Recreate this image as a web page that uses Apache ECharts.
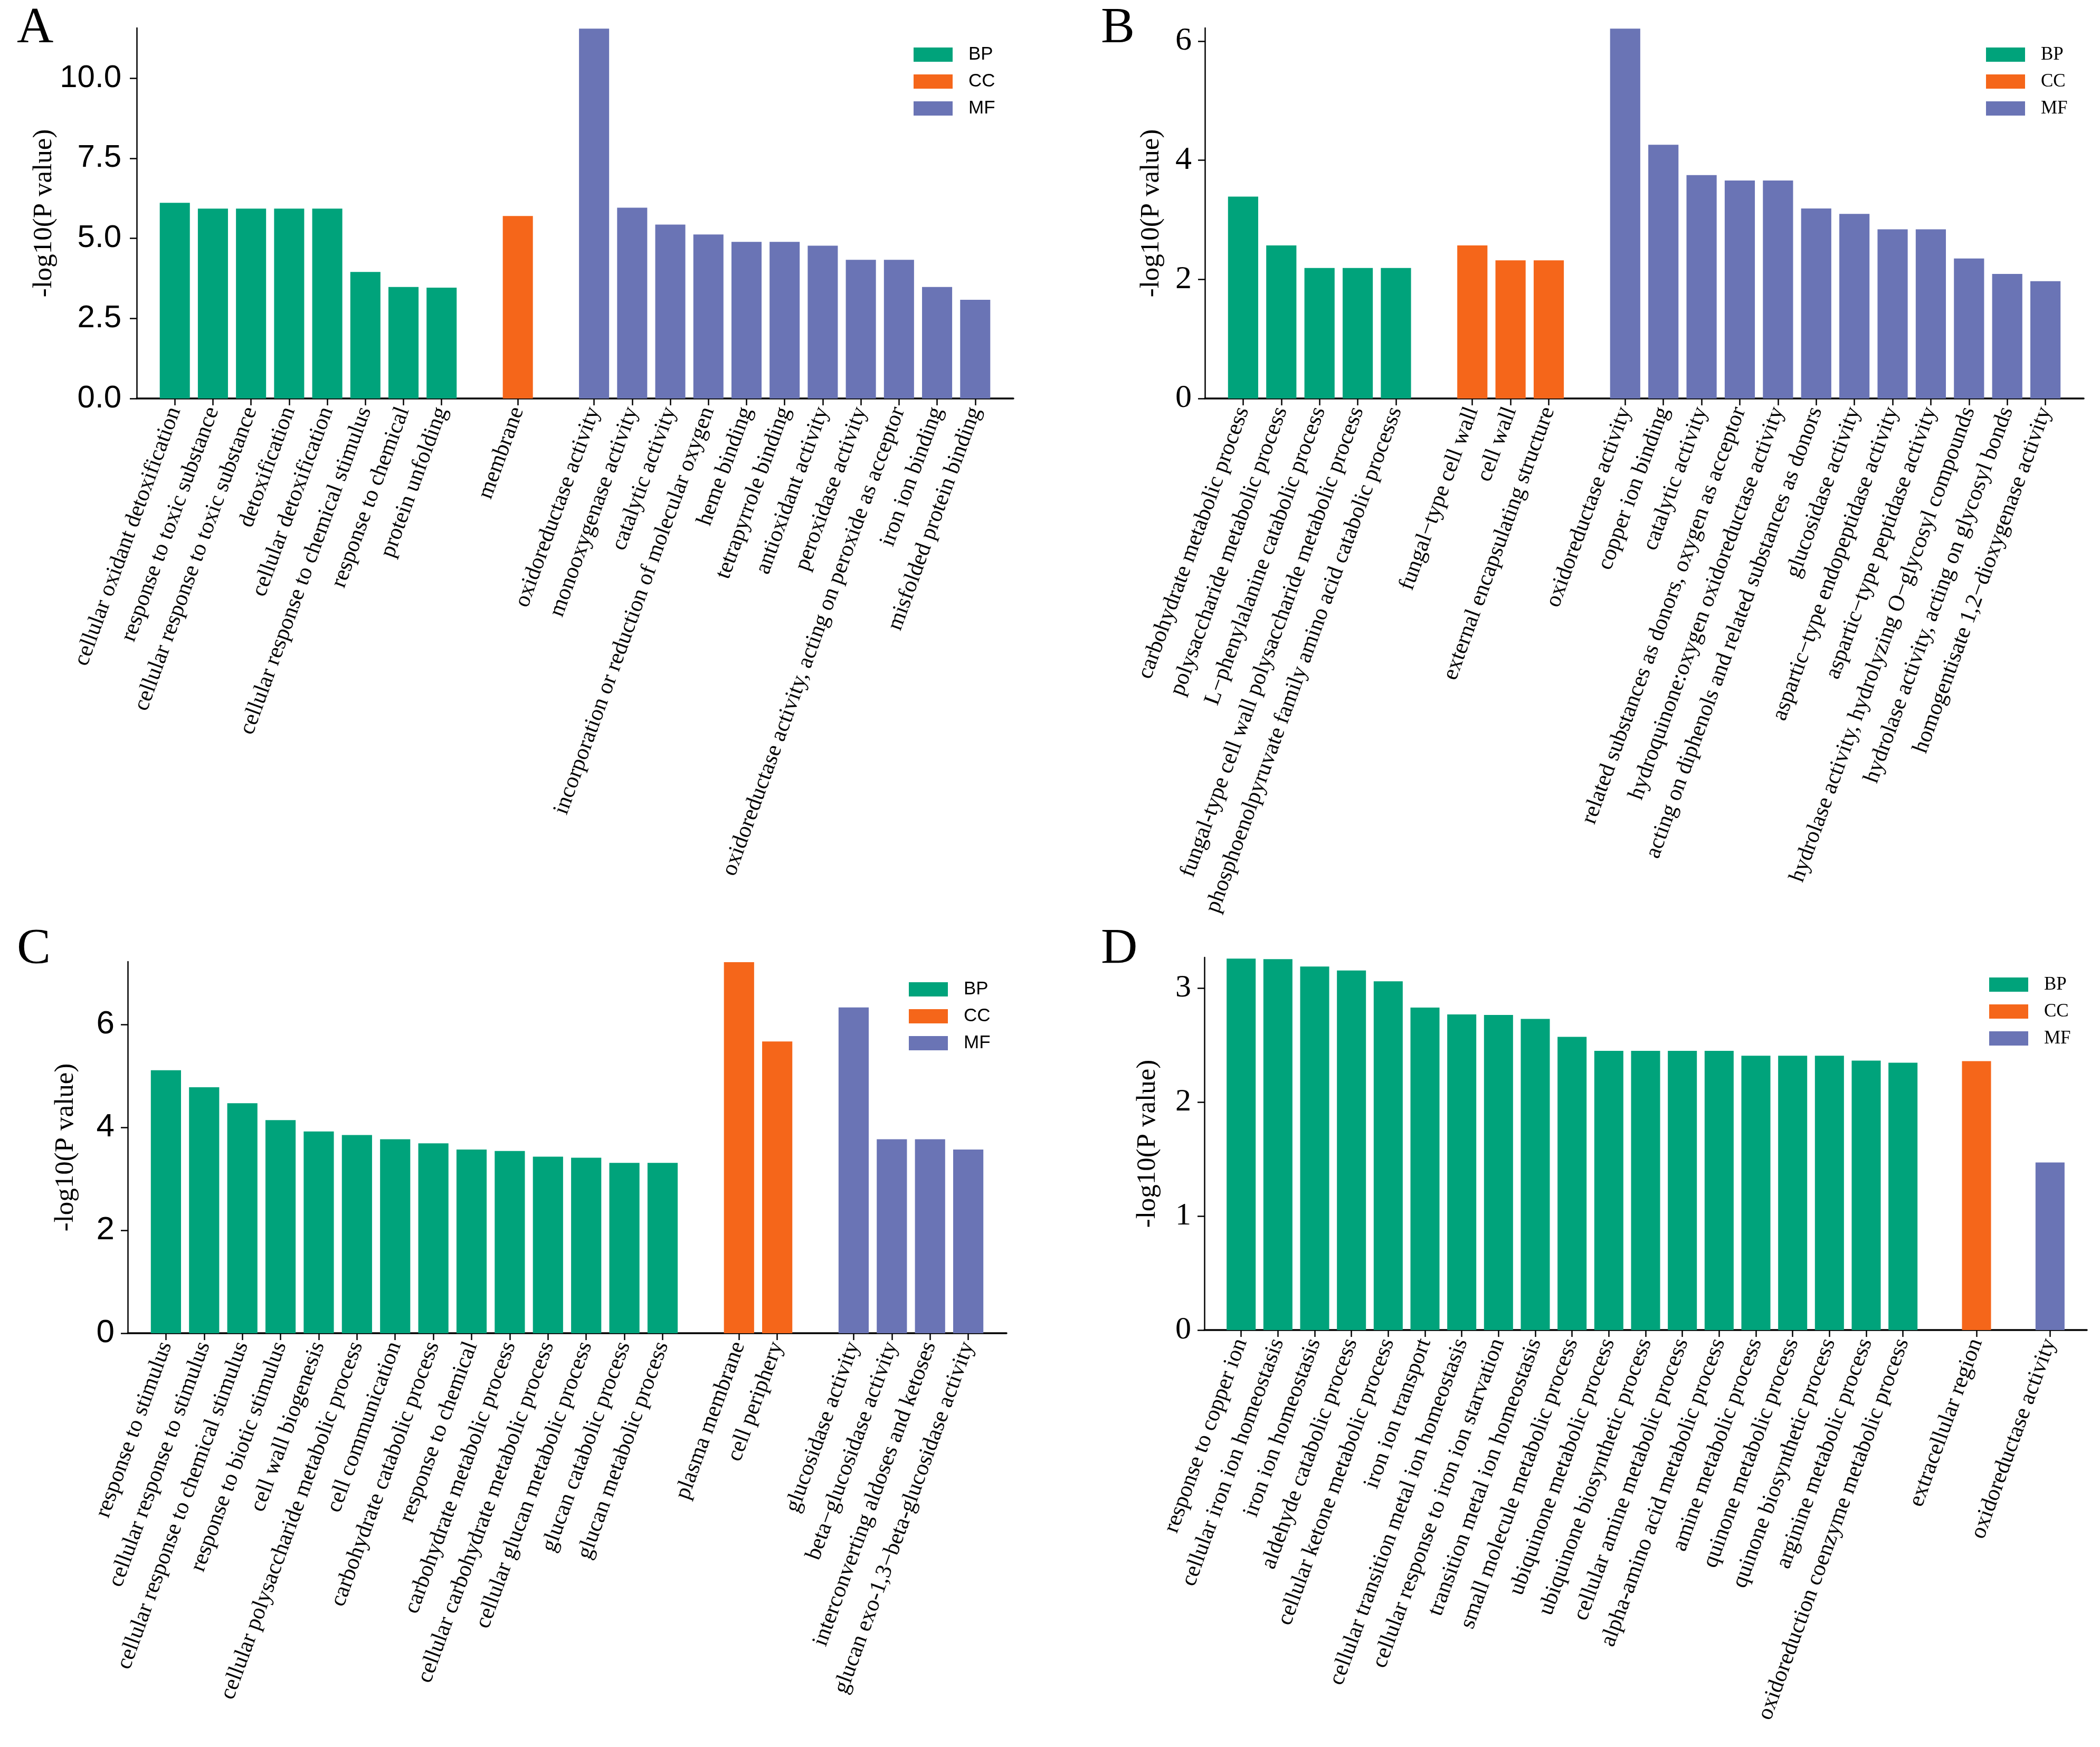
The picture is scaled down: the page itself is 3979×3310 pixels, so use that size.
<!DOCTYPE html>
<html>
<head>
<meta charset="utf-8">
<script src="https://cdn.jsdelivr.net/npm/echarts@6/dist/echarts.min.js"></script>
<style>html,body{margin:0;padding:0;background:#fff}#c{width:3979px;height:3310px}</style>
</head>
<body>
<div id="c"></div>
<script>
// ---------- Panel A ----------
const aBPNames = ['cellular oxidant detoxification','response to toxic substance','cellular response to toxic substance','detoxification','cellular detoxification','cellular response to chemical stimulus','response to chemical','protein unfolding'];
const aBPVals = [6.11,5.93,5.93,5.93,5.93,3.95,3.48,3.46];
const aCCNames = ['membrane'];
const aCCVals = [5.70];
const aMFNames = ['oxidoreductase activity','monooxygenase activity','catalytic activity','incorporation or reduction of molecular oxygen','heme binding','tetrapyrrole binding','antioxidant activity','peroxidase activity','oxidoreductase activity, acting on peroxide as acceptor','iron ion binding','misfolded protein binding'];
const aMFVals = [11.55,5.96,5.43,5.12,4.89,4.89,4.77,4.33,4.33,3.48,3.08];
const aTicks = [0,2.5,5,7.5,10];

// ---------- Panel B ----------
const bBPNames = ['carbohydrate metabolic process','polysaccharide metabolic process','L\u2212phenylalanine catabolic process','fungal-type cell wall polysaccharide metabolic process','phosphoenolpyruvate family amino acid catabolic processs'];
const bBPVals = [3.39,2.57,2.19,2.19,2.19];
const bCCNames = ['fungal\u2212type cell wall','cell wall','external encapsulating structure'];
const bCCVals = [2.57,2.32,2.32];
const bMFNames = ['oxidoreductase activity','copper ion binding','catalytic activity','related substances as donors, oxygen as acceptor','hydroquinone:oxygen oxidoreductase activity','acting on diphenols and related substances as donors','glucosidase activity','aspartic\u2212type endopeptidase activity','aspartic\u2212type peptidase activity','hydrolase activity, hydrolyzing O\u2212glycosyl compounds','hydrolase activity, acting on glycosyl bonds','homogentisate 1,2\u2212dioxygenase activity'];
const bMFVals = [6.21,4.26,3.75,3.66,3.66,3.19,3.10,2.84,2.84,2.35,2.09,1.97];
const bTicks = [0,2,4,6];

// ---------- Panel C ----------
const cBPNames = ['response to stimulus','cellular response to stimulus','cellular response to chemical stimulus','response to biotic stimulus','cell wall biogenesis','cellular polysaccharide metabolic process','cell communication','carbohydrate catabolic process','response to chemical','carbohydrate metabolic process','cellular carbohydrate metabolic process','cellular glucan metabolic process','glucan catabolic process','glucan metabolic process'];
const cBPVals = [5.11,4.78,4.47,4.14,3.92,3.85,3.77,3.69,3.57,3.54,3.43,3.41,3.31,3.31];
const cCCNames = ['plasma membrane','cell periphery'];
const cCCVals = [7.21,5.67];
const cMFNames = ['glucosidase activity','beta\u2212glucosidase activity','interconverting aldoses and ketoses','glucan exo-1,3\u2212beta-glucosidase activity'];
const cMFVals = [6.33,3.77,3.77,3.57];
const cTicks = [0,2,4,6];

// ---------- Panel D ----------
const dBPNames = ['response to copper ion','cellular iron ion homeostasis','iron ion homeostasis','aldehyde catabolic process','cellular ketone metabolic process','iron ion transport','cellular transition metal ion homeostasis','cellular response to iron ion starvation','transition metal ion homeostasis','small molecule metabolic process','ubiquinone metabolic process','ubiquinone biosynthetic process','cellular amine metabolic process','alpha-amino acid metabolic process','amine metabolic process','quinone metabolic process','quinone biosynthetic process','arginine metabolic process','oxidoreduction coenzyme metabolic process'];
const dBPVals = [3.26,3.255,3.19,3.155,3.06,2.83,2.77,2.765,2.73,2.573,2.45,2.45,2.45,2.45,2.407,2.407,2.407,2.365,2.346];
const dCCNames = ['extracellular region'];
const dCCVals = [2.36];
const dMFNames = ['oxidoreductase activity'];
const dMFVals = [1.47];
const dTicks = [0,1,2,3];

const COLORS = {BP:'#00A37B', CC:'#F5661A', MF:'#6A74B5'};
const SERIF = 'Liberation Serif';
const SANS = 'Liberation Sans';

const panels = [
  {bp:aBPNames,bpv:aBPVals,cc:aCCNames,ccv:aCCVals,mf:aMFNames,mfv:aMFVals,ticks:aTicks,max:11.57,fmt:v=>v.toFixed(1),
   grid:{left:259,top:53,width:1661,height:702},tickFont:SANS,tickSize:60,labMargin:29,nameGap:147,
   legend:{left:1731,top:86},legFont:SANS,letter:'A',lx:32,ly:55},
  {bp:bBPNames,bpv:bBPVals,cc:bCCNames,ccv:bCCVals,mf:bMFNames,mfv:bMFVals,ticks:bTicks,max:6.22,fmt:v=>String(v),
   grid:{left:2283,top:53,width:1665,height:702},tickFont:SERIF,tickSize:62,labMargin:25,nameGap:76,
   legend:{left:3763,top:86},legFont:SERIF,letter:'B',lx:2086,ly:55},
  {bp:cBPNames,bpv:cBPVals,cc:cCCNames,ccv:cCCVals,mf:cMFNames,mfv:cMFVals,ticks:cTicks,max:7.22,fmt:v=>String(v),
   grid:{left:242,top:1822,width:1665,height:704},tickFont:SANS,tickSize:62,labMargin:25,nameGap:92,
   legend:{left:1722,top:1857},legFont:SANS,letter:'C',lx:32,ly:1800},
  {bp:dBPNames,bpv:dBPVals,cc:dCCNames,ccv:dCCVals,mf:dMFNames,mfv:dMFVals,ticks:dTicks,max:3.27,fmt:v=>String(v),
   grid:{left:2282,top:1814,width:1672,height:706},tickFont:SERIF,tickSize:60,labMargin:25,nameGap:82,
   legend:{left:3769,top:1848},legFont:SERIF,letter:'D',lx:2086,ly:1800}
];

const option = {animation:false, backgroundColor:'#fff', grid:[], xAxis:[], yAxis:[], series:[], legend:[], graphic:[]};

panels.forEach((p,i)=>{
  const cats = [''];
  const sBP = ['-'], sCC = ['-'], sMF = ['-'];
  p.bp.forEach((n,k)=>{cats.push(n); sBP.push(p.bpv[k]); sCC.push('-'); sMF.push('-');});
  cats.push(''); sBP.push('-'); sCC.push('-'); sMF.push('-');
  p.cc.forEach((n,k)=>{cats.push(n); sBP.push('-'); sCC.push(p.ccv[k]); sMF.push('-');});
  cats.push(''); sBP.push('-'); sCC.push('-'); sMF.push('-');
  p.mf.forEach((n,k)=>{cats.push(n); sBP.push('-'); sCC.push('-'); sMF.push(p.mfv[k]);});
  cats.push(''); sBP.push('-'); sCC.push('-'); sMF.push('-');

  option.grid.push(Object.assign({containLabel:false}, p.grid));
  option.xAxis.push({
    type:'category', gridIndex:i, data:cats, boundaryGap:false,
    axisLine:{show:true, lineStyle:{color:'#000', width:3.5}},
    axisTick:{show:true, length:13, lineStyle:{color:'#000', width:2.5}, interval:(idx,val)=>val!==''},
    axisLabel:{interval:0, rotate:70, fontFamily:SERIF, fontSize:43, color:'#000', margin:18},
    splitLine:{show:false}
  });
  option.yAxis.push({
    type:'value', gridIndex:i, min:0, max:p.max,
    name:'-log10(P value)', nameLocation:'middle', nameGap:p.nameGap,
    nameTextStyle:{fontFamily:SERIF, fontSize:51, fontWeight:'normal', color:'#000'},
    axisLine:{show:true, lineStyle:{color:'#000', width:2.5}},
    axisTick:{show:true, length:13, lineStyle:{color:'#000', width:2.5}, customValues:p.ticks},
    axisLabel:{fontFamily:p.tickFont, fontSize:p.tickSize, color:'#000', margin:p.labMargin, customValues:p.ticks, formatter:p.fmt},
    splitLine:{show:false}
  });
  [['BP',sBP],['CC',sCC],['MF',sMF]].forEach(([nm,d])=>{
    option.series.push({
      type:'bar', name:nm, xAxisIndex:i, yAxisIndex:i, stack:'s'+i,
      barWidth:'79%', data:d, itemStyle:{color:COLORS[nm]}
    });
  });
  option.legend.push({
    orient:'vertical', left:p.legend.left, top:p.legend.top, padding:0,
    itemWidth:74, itemHeight:27, itemGap:16, icon:'rect', selectedMode:false,
    data:['BP','CC','MF'],
    textStyle:{fontFamily:p.legFont, fontSize:35, color:'#000', padding:[0,0,0,25]}
  });
  option.graphic.push({
    type:'text', x:p.lx, y:p.ly,
    style:{text:p.letter, font:'96px "Liberation Serif"', fill:'#000', align:'left', verticalAlign:'middle'}
  });
});

const chart = echarts.init(document.getElementById('c'));
chart.setOption(option);
</script>
</body>
</html>
